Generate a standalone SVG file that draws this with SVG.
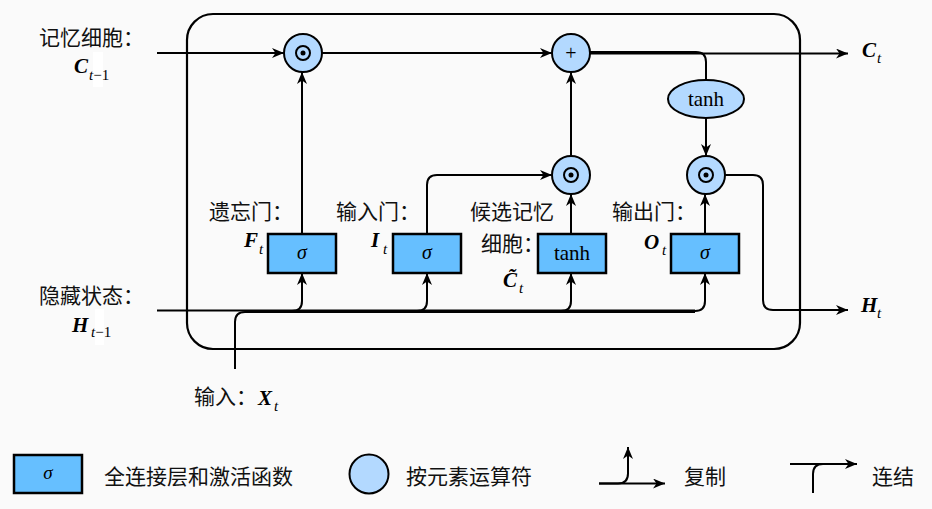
<svg xmlns="http://www.w3.org/2000/svg" width="932" height="509" viewBox="0 0 932 509">
<defs>
<style>
.ln{fill:none;stroke:#000;stroke-width:2}
.arr{fill:none;stroke:#000;stroke-width:2;marker-end:url(#ah)}
.box{fill:#66bfff;stroke:#000;stroke-width:2.5}
.op{fill:#b3d9ff;stroke:#000;stroke-width:2}
.cn{font-family:"Noto Sans CJK SC","Noto Sans",sans-serif;font-size:21px;fill:#111}
.m{font-family:"Liberation Serif",serif;font-weight:bold;font-style:italic;font-size:21px;fill:#000}
.s{font-family:"Liberation Serif",serif;font-style:italic;font-size:15px;fill:#000}
.sr{font-family:"Liberation Serif",serif;font-style:normal;font-size:15px;fill:#000}
.sig{font-family:"Liberation Serif",serif;font-style:italic;font-size:20px;fill:#000;text-anchor:middle}
.fn{font-family:"Liberation Serif",serif;font-size:21px;fill:#000;text-anchor:middle}
</style>
<marker id="ah" viewBox="0 0 12 10" refX="12" refY="5" markerWidth="12" markerHeight="10" markerUnits="userSpaceOnUse" orient="auto">
<path d="M0,0 L12,5 L0,10 L3.5,5 z" fill="#000"/>
</marker>
</defs>
<rect x="0" y="0" width="932" height="509" fill="#fafafa"/>

<g id="cell">
<rect x="187" y="14" width="613" height="335" rx="26" ry="26" fill="none" stroke="#000" stroke-width="2.2"/>
</g>

<g id="connectors">
<path class="arr" d="M157 53 L284 53"/>
<path class="arr" d="M322 53 L552 53"/>
<path class="arr" d="M590 53.5 L848 53.5"/>
<path class="ln" d="M590 52 L696 52 Q706 52 706 62 L706 80"/>
<path class="arr" d="M706 118 L706 156"/>
<path class="arr" d="M302 234 L302 72"/>
<path class="arr" d="M427 234 L427 185 Q427 175 437 175 L552 175"/>
<path class="arr" d="M571 234 L571 194"/>
<path class="arr" d="M571 156 L571 72"/>
<path class="arr" d="M705 234 L705 194"/>
<path class="arr" d="M725 175 L753 175 Q763 175 763 185 L763 300 Q763 310 773 310 L848 310"/>
<path class="ln" d="M157 310.5 L695 310.5"/>
<path class="ln" d="M235 369 L235 322 Q235 312 245 312 L695 312"/>
<path class="arr" d="M292 311 Q302 311 302 301 L302 273"/>
<path class="arr" d="M417 311 Q427 311 427 301 L427 273"/>
<path class="arr" d="M561 311 Q571 311 571 301 L571 273"/>
<path class="arr" d="M695 311 Q705 311 705 301 L705 273"/>
</g>

<g id="mul-forget">
<circle class="op" cx="303" cy="53" r="19"/>
<circle cx="303" cy="53" r="7" fill="none" stroke="#000" stroke-width="2"/>
<circle cx="303" cy="53" r="2.5" fill="#000"/>
</g>
<g id="add">
<circle class="op" cx="571" cy="53" r="19"/>
<text x="571" y="60" class="fn" style="font-size:20px">+</text>
</g>
<g id="mul-input">
<circle class="op" cx="571" cy="175" r="19"/>
<circle cx="571" cy="175" r="7" fill="none" stroke="#000" stroke-width="2"/>
<circle cx="571" cy="175" r="2.5" fill="#000"/>
</g>
<g id="mul-output">
<circle class="op" cx="706" cy="175" r="19"/>
<circle cx="706" cy="175" r="7" fill="none" stroke="#000" stroke-width="2"/>
<circle cx="706" cy="175" r="2.5" fill="#000"/>
</g>
<g id="tanh-out">
<ellipse class="op" cx="706" cy="99" rx="38" ry="19"/>
<text x="706" y="105.5" class="fn">tanh</text>
</g>

<g id="gate-forget">
<rect class="box" x="268" y="234" width="68" height="39"/>
<text x="302" y="259" class="sig">σ</text>
</g>
<g id="gate-input">
<rect class="box" x="393" y="234" width="68" height="39"/>
<text x="427" y="259" class="sig">σ</text>
</g>
<g id="gate-candidate">
<rect class="box" x="538" y="234" width="68" height="39"/>
<text x="572" y="260" class="fn">tanh</text>
</g>
<g id="gate-output">
<rect class="box" x="671" y="234" width="68" height="39"/>
<text x="705" y="259" class="sig">σ</text>
</g>

<g id="labels">
<text x="39" y="45" class="cn">记忆细胞：</text>
<rect x="93" y="52" width="10" height="35" fill="#fff"/>
<text x="74" y="73" class="m">C</text>
<text x="89" y="80" class="s">t<tspan class="sr">−1</tspan></text>

<text x="39" y="303" class="cn">隐藏状态：</text>
<rect x="95" y="309" width="9" height="36" fill="#fff"/>
<text x="72" y="332" class="m">H</text>
<text x="91" y="337" class="s">t<tspan class="sr">−1</tspan></text>

<text x="209" y="219" class="cn">遗忘门：</text>
<text x="244" y="247" class="m">F</text>
<text x="259" y="254" class="s">t</text>

<text x="336" y="219" class="cn">输入门：</text>
<text x="371" y="247" class="m">I</text>
<text x="383" y="254" class="s">t</text>

<text x="470" y="219" class="cn">候选记忆</text>
<text x="481" y="251" class="cn">细胞：</text>
<text x="503" y="287" class="m">C&#x303;</text>
<text x="519" y="293" class="s">t</text>

<text x="612" y="219" class="cn">输出门：</text>
<text x="644" y="249" class="m">O</text>
<text x="662" y="255" class="s">t</text>

<text x="862" y="57" class="m">C</text>
<text x="877" y="63" class="s">t</text>
<text x="861" y="312" class="m">H</text>
<text x="877" y="318" class="s">t</text>

<text x="194" y="404" class="cn">输入：</text>
<text x="258" y="405" class="m">X</text>
<text x="274" y="411" class="s">t</text>
</g>

<g id="legend">
<rect class="box" x="14" y="455" width="68" height="38"/>
<text x="48" y="479" class="sig" style="font-size:19px">σ</text>
<text x="104" y="484" class="cn">全连接层和激活函数</text>
<circle class="op" cx="369" cy="474" r="19.5"/>
<text x="406" y="484" class="cn">按元素运算符</text>
<path class="arr" d="M599 483.5 L665 483.5"/>
<path class="arr" d="M599 483.5 L618 483.5 Q628 483.5 628 473.5 L628 447"/>
<text x="684" y="484" class="cn">复制</text>
<path class="arr" d="M790 464 L857 464"/>
<path class="ln" d="M813 493 L813 474 Q813 464 823 464"/>
<text x="872" y="484" class="cn">连结</text>
</g>
</svg>
